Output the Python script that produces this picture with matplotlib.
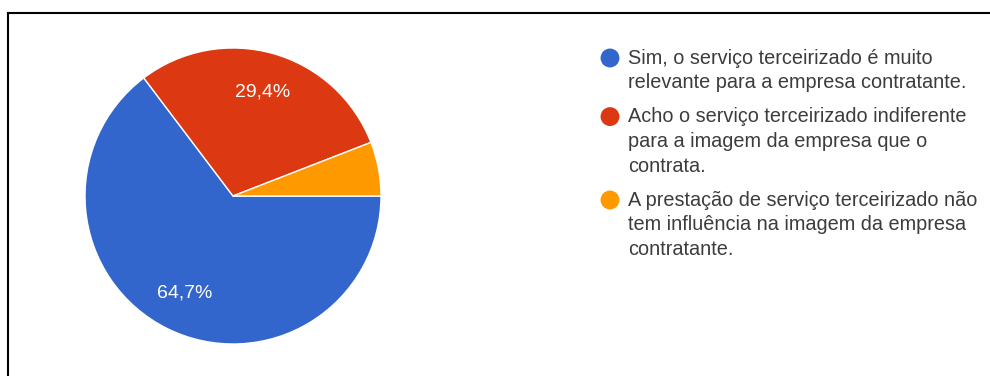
import matplotlib.pyplot as plt
from matplotlib.lines import Line2D

# survey answers (share of responses, %)
labels = [
    "Sim, o serviço terceirizado é muito\nrelevante para a empresa contratante.",
    "Acho o serviço terceirizado indiferente\npara a imagem da empresa que o\ncontrata.",
    "A prestação de serviço terceirizado não\ntem influência na imagem da empresa\ncontratante.",
]
shares = [64.7, 29.4, 5.9]
colors = ["#3366CC", "#DC3912", "#FF9900"]

W, H = 990, 376
plt.rcParams["font.family"] = ["Liberation Sans", "DejaVu Sans"]
fig = plt.figure(figsize=(W / 100, H / 100), dpi=100)


def pct_label(p):
    # small slices get no label
    return f"{p:.1f}%".replace(".", ",") if p >= 8 else ""


# pie axes: center (233, 196) px, radius 148 px
cx, cy, r = 233, 196, 148
ax = fig.add_axes([(cx - r) / W, (H - cy - r) / H, 2 * r / W, 2 * r / H])
wedges, texts, autotexts = ax.pie(
    shares, colors=colors, startangle=0, counterclock=False,
    autopct=pct_label, pctdistance=0.73,
    wedgeprops=dict(edgecolor="white", linewidth=1),
    textprops=dict(color="white", fontsize=14),
)
ax.set_xlim(-1, 1)
ax.set_ylim(-1, 1)
ax.set_aspect("auto")
ax.axis("off")

# legend drawn in pixel coordinates
lax = fig.add_axes([0, 0, 1, 1])
lax.set_xlim(0, W)
lax.set_ylim(H, 0)
lax.axis("off")
line_pitch = 24.8
entry_gap = 9
y = 58
for lab, col in zip(labels, colors):
    lax.scatter([610], [y], s=185, color=col, edgecolors="none")
    for line in lab.split("\n"):
        lax.text(628, y, line, fontsize=14.3, color="#3c3c3c", va="center", ha="left")
        y += line_pitch
    y += entry_gap

# frame lines on top and left
fig.add_artist(Line2D([8 / W, 1], [1 - 13 / H, 1 - 13 / H], color="black", lw=1.5,
                      transform=fig.transFigure))
fig.add_artist(Line2D([8 / W, 8 / W], [0, 1 - 13 / H], color="black", lw=1.5,
                      transform=fig.transFigure))

fig.savefig("out.png", dpi=100)
